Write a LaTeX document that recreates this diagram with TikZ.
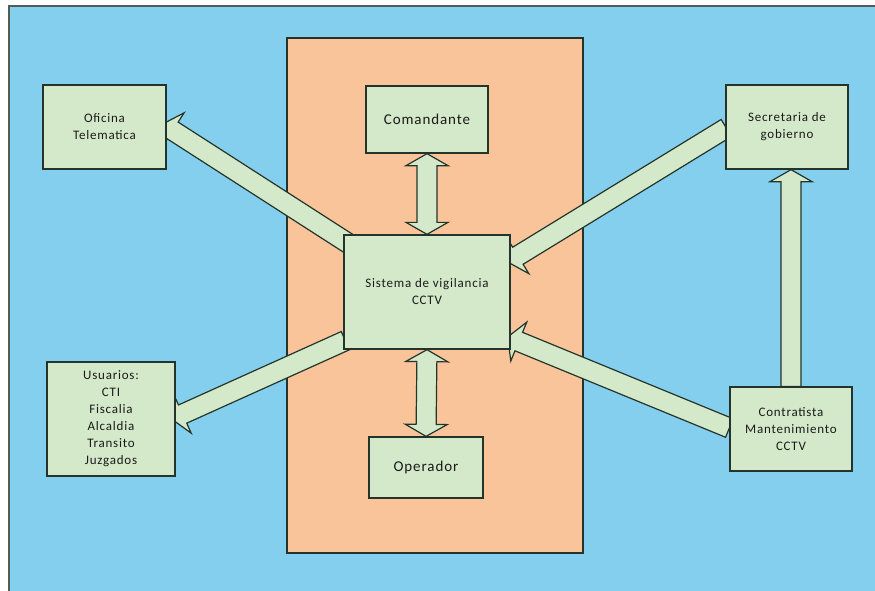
\documentclass[tikz,border=0pt]{standalone}
\usepackage{fontspec}
\setmainfont{Carlito}
\newfontfamily\boxfont[LetterSpace=6]{Carlito}
\usetikzlibrary{calc}
\pgfdeclarelayer{back}
\pgfdeclarelayer{links}
\pgfsetlayers{back,links,main}

\definecolor{skyblue}{HTML}{85CFEE}
\definecolor{peach}{HTML}{F9C49A}
\definecolor{palegreen}{HTML}{D4E9C9}
\definecolor{outline}{HTML}{24342A}
\definecolor{ink}{HTML}{1A1A1A}

% shaft half width, head half width, head length
\newcommand\bkshaft{10pt}
\newcommand\bkhead{21pt}
\newcommand\bklen{12pt}

% single block arrow from #1 to #2
\newcommand\blockarrow[2]{%
  \draw[barrow] let \p1=($(#2)-(#1)$), \n1={atan2(\y1,\x1)}, \n2={veclen(\x1,\y1)} in
    ($(#1)+({\n1+90}:\bkshaft)$)
    -- ($(#1)+({\n1}:{\n2-\bklen})+({\n1+90}:\bkshaft)$)
    -- ($(#1)+({\n1}:{\n2-\bklen})+({\n1+90}:\bkhead)$)
    -- (#2)
    -- ($(#1)+({\n1}:{\n2-\bklen})+({\n1-90}:\bkhead)$)
    -- ($(#1)+({\n1}:{\n2-\bklen})+({\n1-90}:\bkshaft)$)
    -- ($(#1)+({\n1-90}:\bkshaft)$)
    -- cycle;}

% double-headed block arrow between #1 and #2
\newcommand\dblockarrow[2]{%
  \draw[barrow] let \p1=($(#2)-(#1)$), \n1={atan2(\y1,\x1)}, \n2={veclen(\x1,\y1)} in
    ($(#1)+({\n1}:\bklen)+({\n1+90}:\bkshaft)$)
    -- ($(#1)+({\n1}:{\n2-\bklen})+({\n1+90}:\bkshaft)$)
    -- ($(#1)+({\n1}:{\n2-\bklen})+({\n1+90}:\bkhead)$)
    -- (#2)
    -- ($(#1)+({\n1}:{\n2-\bklen})+({\n1-90}:\bkhead)$)
    -- ($(#1)+({\n1}:{\n2-\bklen})+({\n1-90}:\bkshaft)$)
    -- ($(#1)+({\n1}:\bklen)+({\n1-90}:\bkshaft)$)
    -- ($(#1)+({\n1}:\bklen)+({\n1-90}:\bkhead)$)
    -- (#1)
    -- ($(#1)+({\n1}:\bklen)+({\n1+90}:\bkhead)$)
    -- cycle;}

\tikzset{
  box/.style={draw=outline, fill=palegreen, line width=1.3pt, align=center,
    inner sep=0pt, text=ink, font=\boxfont\fontsize{13}{17}\selectfont},
  bigbox/.style={box, font=\boxfont\fontsize{15}{18}\selectfont},
  barrow/.style={draw=outline, fill=palegreen, line width=1.2pt, line join=miter},
}

\begin{document}
\begin{tikzpicture}[x=1pt, y=-1pt]
\useasboundingbox (0,0) rectangle (875,590);

\begin{pgfonlayer}{back}
  \fill[white] (0,0) rectangle (875,590);
  \draw[fill=skyblue, draw=outline!80, line width=1.5pt] (9,6) rectangle (890,600);
  \draw[fill=peach, draw=outline, line width=1.2pt] (287,38) rectangle (583,553);
\end{pgfonlayer}

% boxes
\node[box, minimum width=123pt, minimum height=84pt] (ofi) at (104.5,127) {Oficina\\Telematica};
\node[bigbox, minimum width=122pt, minimum height=67pt] (com) at (427,119.5) {Comandante};
\node[box, minimum width=122pt, minimum height=84pt] (sec) at (787,127) {Secretaria de\\gobierno};
\node[box, minimum width=166pt, minimum height=114pt] (sis) at (427,292) {Sistema de vigilancia\\CCTV};
\node[box, minimum width=128pt, minimum height=114pt] (usu) at (111,419) {Usuarios:\\CTI\\Fiscalia\\Alcaldia\\Transito\\Juzgados};
\node[bigbox, minimum width=114pt, minimum height=61pt] (ope) at (426,467.5) {Operador};
\node[box, minimum width=122pt, minimum height=84pt] (con) at (791,429) {Contratista\\Mantenimiento\\CCTV};

% connector ends
\coordinate (t1) at ($(sis.north west)+(8,11)$);
\coordinate (h1) at ($(ofi.east)+(-4,-3)$);
\coordinate (t2) at ($(sec.west)+(1,1)$);
\coordinate (h2) at ($(sis.east)+(-3,-30)$);
\coordinate (t3) at ($(sis.south west)+(2,-9)$);
\coordinate (h3) at ($(usu.east)+(-4,0)$);
\coordinate (t4) at ($(con.west)+(0,-1)$);
\coordinate (h4) at ($(sis.east)+(-3,45)$);
\coordinate (t5) at (con.north);
\coordinate (h5) at (sec.south -| con.north);

\begin{pgfonlayer}{links}
  \blockarrow{t1}{h1}
  \blockarrow{t2}{h2}
  \blockarrow{t3}{h3}
  \blockarrow{t4}{h4}
  \blockarrow{t5}{h5}
  \dblockarrow{com.south}{sis.north}
  \dblockarrow{sis.south}{ope.north}
\end{pgfonlayer}
\end{tikzpicture}
\end{document}
